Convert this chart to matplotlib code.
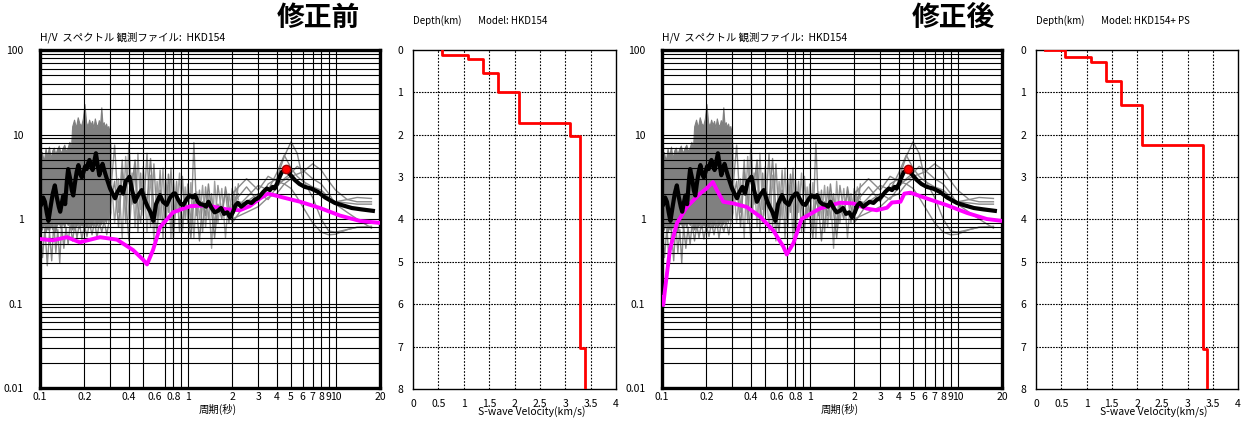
import matplotlib
matplotlib.use('Agg')
import matplotlib.pyplot as plt
import numpy as np

plt.rcParams['font.family'] = ['Noto Sans CJK JP', 'DejaVu Sans']

# ---- observed H/V spectra (file HKD154) ----
# dense band of records at short period
band_T = [0.100, 0.103, 0.106, 0.109, 0.112, 0.115, 0.118, 0.121, 0.124, 0.127,
          0.130, 0.134, 0.138, 0.142, 0.146, 0.150, 0.154, 0.158, 0.162, 0.165,
          0.170, 0.175, 0.180, 0.185, 0.190, 0.195, 0.200, 0.205, 0.210, 0.215,
          0.220, 0.225, 0.230, 0.235, 0.240, 0.245, 0.250, 0.255, 0.260, 0.265,
          0.270, 0.275, 0.280, 0.285, 0.290, 0.295, 0.300]
band_hi = [5.5, 6.2, 4.8, 6.8, 5.6, 7.2, 5.2, 6.5, 7.0, 5.8,
           6.6, 7.4, 6.0, 6.9, 7.6, 6.3, 7.0, 8.2, 6.8, 12.5,
           15.0, 12.0, 16.0, 13.5, 12.8, 15.5, 23.0, 14.0, 12.5, 15.0,
           13.0, 14.5, 12.0, 15.5, 13.2, 12.6, 14.8, 13.0, 21.0, 12.8,
           14.0, 12.2, 13.5, 11.8, 12.6, 11.0, 7.0]
band_lo = [0.85, 0.75, 0.90, 0.70, 0.80, 0.72, 0.88, 0.76, 0.82, 0.70,
           0.85, 0.90, 0.78, 0.92, 0.80, 0.95, 0.85, 0.90, 0.80, 0.75,
           0.85, 0.80, 0.90, 0.78, 0.88, 0.82, 0.90, 0.80, 0.86, 0.92,
           0.80, 0.88, 0.84, 0.95, 0.82, 0.90, 0.96, 0.85, 0.90, 0.98,
           0.88, 1.00, 0.92, 1.05, 0.95, 1.00, 1.20]

# lowest records under the band
low_T = [0.100, 0.104, 0.108, 0.112, 0.116, 0.120, 0.124, 0.128, 0.132, 0.136,
         0.140, 0.145, 0.150, 0.155, 0.160, 0.166, 0.172, 0.178, 0.185, 0.192,
         0.200, 0.208, 0.216, 0.225, 0.234, 0.243, 0.252, 0.262, 0.272, 0.283,
         0.295, 0.300]
low_A = [0.90, 0.35, 0.80, 0.28, 0.70, 0.32, 0.90, 0.40, 0.75, 0.30,
         0.85, 0.45, 0.80, 0.50, 0.90, 0.55, 0.85, 0.60, 0.90, 0.58,
         0.85, 0.62, 0.90, 0.65, 0.95, 0.60, 0.90, 0.70, 0.95, 0.65,
         1.00, 1.20]

# individual records in the middle period range
mid_T = [0.30, 0.32, 0.34, 0.36, 0.38, 0.40, 0.42, 0.44, 0.46, 0.48,
         0.50, 0.53, 0.56, 0.59, 0.62, 0.65, 0.68, 0.71, 0.74, 0.77,
         0.80, 0.84, 0.88, 0.92, 0.96, 1.00, 1.05, 1.10, 1.15, 1.20,
         1.26, 1.32, 1.38, 1.45, 1.52, 1.60, 1.70, 1.80, 1.90, 2.00,
         2.10, 2.20]
mid_a = [2.0, 7.5, 1.2, 5.0, 0.9, 8.0, 1.5, 4.0, 0.7, 3.5,
         1.1, 6.0, 0.8, 4.5, 1.0, 3.8, 0.6, 3.0, 1.2, 4.0,
         0.9, 2.8, 0.7, 3.2, 1.0, 2.6, 0.8, 8.0, 1.1, 2.2,
         0.7, 2.4, 1.0, 2.0, 0.8, 2.5, 1.2, 2.1, 0.9, 2.3,
         1.3, 2.6]
mid_b = [4.0, 0.9, 3.0, 0.6, 5.5, 1.0, 3.5, 0.8, 6.0, 1.3,
         4.2, 0.7, 3.3, 0.55, 2.8, 1.0, 4.0, 0.8, 2.5, 0.6,
         3.0, 1.2, 3.5, 0.7, 2.4, 0.9, 2.7, 0.6, 2.1, 1.0,
         2.5, 0.8, 2.0, 0.45, 2.8, 0.9, 2.3, 0.6, 2.0, 1.1,
         2.4, 1.7]
mid_c = [1.5, 2.8, 0.8, 3.6, 1.8, 0.55, 2.6, 5.0, 1.4, 0.9,
         2.5, 1.6, 5.2, 1.3, 0.7, 2.2, 1.5, 0.9, 3.4, 1.6,
         0.6, 1.9, 1.4, 0.8, 1.8, 1.2, 0.6, 1.7, 1.3, 0.55,
         1.6, 1.1, 2.6, 1.2, 0.6, 1.5, 1.0, 2.4, 1.4, 0.9,
         1.8, 2.0]

# longer period records
long_T = [2.0, 2.5, 3.0, 3.5, 4.0, 4.5, 5.0, 5.5, 6.0, 7.0,
          8.0, 9.0, 10.0, 12.0, 14.0, 17.5]
long_1 = [1.5, 2.4, 1.6, 2.6, 3.0, 5.5, 8.2, 6.0, 3.0, 1.8,
          1.0, 0.72, 0.70, 0.75, 0.80, 0.80]
long_2 = [1.2, 1.8, 2.5, 2.2, 3.5, 5.7, 4.0, 3.2, 2.8, 2.4,
          2.2, 1.8, 1.6, 1.7, 1.8, 1.75]
long_3 = [1.7, 1.5, 1.9, 2.3, 2.6, 2.9, 3.2, 3.4, 3.6, 4.5,
          3.8, 2.8, 2.2, 1.7, 1.6, 1.6]
long_4 = [0.9, 1.6, 2.0, 1.7, 2.4, 3.0, 3.5, 4.2, 3.8, 3.0,
          2.6, 2.0, 1.5, 1.2, 1.0, 0.78]
long_5 = [1.0, 1.2, 1.4, 1.8, 2.0, 2.6, 2.3, 1.8, 1.4, 0.9,
          0.70, 0.65, 0.66, 0.75, 0.80, 0.82]
long_6 = [2.0, 3.0, 2.2, 3.2, 2.8, 2.6, 3.0, 2.7, 2.5, 2.2,
          1.9, 1.7, 1.6, 1.55, 1.5, 1.5]

# mean of observed H/V
mean_T = [0.102, 0.105, 0.108, 0.111, 0.114, 0.118, 0.122, 0.126, 0.130, 0.134,
          0.137, 0.141, 0.144, 0.148, 0.152, 0.155, 0.160, 0.164, 0.168, 0.172,
          0.177, 0.182, 0.187, 0.192, 0.197, 0.202, 0.207, 0.212, 0.216, 0.221,
          0.227, 0.233, 0.239, 0.245, 0.252, 0.258, 0.265, 0.272, 0.280, 0.289,
          0.298, 0.310, 0.322, 0.335, 0.350, 0.365, 0.380, 0.395, 0.403, 0.420,
          0.439, 0.460, 0.488, 0.510, 0.535, 0.560, 0.585, 0.610, 0.649, 0.680,
          0.720, 0.760, 0.800, 0.821, 0.860, 0.900, 0.934, 0.980, 1.03, 1.08,
          1.12, 1.17, 1.22, 1.28, 1.33, 1.38, 1.45, 1.52, 1.60, 1.68,
          1.76, 1.85, 1.93, 2.02, 2.10, 2.18, 2.30, 2.42, 2.54, 2.70,
          2.85, 2.97, 3.10, 3.25, 3.43, 3.60, 3.75, 3.88, 4.05, 4.20,
          4.33, 4.48, 4.62, 4.90, 5.30, 5.70, 6.20, 6.80, 7.60, 8.50,
          9.90, 11.2, 12.9, 15.0, 17.9]
mean_A = [1.5, 1.8, 1.6, 1.2, 0.95, 1.4, 2.0, 2.5, 1.8, 1.4,
          1.22, 1.6, 1.9, 1.5, 2.8, 3.9, 3.0, 2.2, 1.9, 2.6,
          3.6, 4.35, 3.4, 3.1, 3.6, 4.2, 3.9, 4.6, 5.0, 4.3,
          3.8, 4.8, 6.0, 4.5, 3.3, 3.9, 4.5, 3.8, 3.2, 2.7,
          2.3, 2.0, 1.76, 2.1, 2.4, 2.0, 2.8, 3.0, 3.17, 2.2,
          1.6, 1.9, 2.2, 1.7, 1.4, 1.2, 0.95, 1.5, 1.92, 1.6,
          1.47, 1.8, 2.0, 2.01, 1.7, 1.5, 1.47, 1.7, 1.9, 1.8,
          1.92, 1.6, 1.5, 1.47, 1.4, 1.6, 1.35, 1.2, 1.25, 1.35,
          1.15, 1.2, 1.05, 1.2, 1.45, 1.55, 1.4, 1.5, 1.6, 1.55,
          1.7, 1.75, 1.9, 2.1, 2.3, 2.2, 2.4, 2.3, 2.7, 3.2,
          3.6, 3.7, 3.9, 3.4, 2.9, 2.6, 2.4, 2.3, 2.1, 1.8,
          1.55, 1.45, 1.35, 1.3, 1.25]
peak_T = 4.62
peak_A = 3.9

# ---- theoretical H/V ----
theo_before_T = [0.100, 0.122, 0.152, 0.186, 0.255, 0.332, 0.426, 0.499, 0.530, 0.582,
                 0.649, 0.795, 1.04, 1.35, 1.84, 2.25, 2.63, 3.08, 3.49, 4.41,
                 5.77, 7.86, 10.7, 14.6, 20.0]
theo_before_A = [0.58, 0.56, 0.61, 0.53, 0.61, 0.57, 0.43, 0.33, 0.29, 0.43,
                 0.80, 1.20, 1.42, 1.45, 1.30, 1.27, 1.42, 1.75, 2.00, 1.80,
                 1.60, 1.35, 1.10, 0.95, 0.90]
theo_after_T = [0.100, 0.102, 0.105, 0.113, 0.126, 0.147, 0.181, 0.200, 0.221, 0.235,
                0.260, 0.304, 0.374, 0.461, 0.567, 0.663, 0.699, 0.776, 0.880, 1.17,
                1.60, 1.97, 2.43, 2.84, 3.33, 3.60, 4.11, 4.37, 4.80, 6.20,
                8.45, 11.6, 15.8, 20.0]
theo_after_A = [0.12, 0.096, 0.15, 0.43, 0.89, 1.39, 2.00, 2.30, 2.74, 2.20,
                1.60, 1.53, 1.39, 1.07, 0.73, 0.47, 0.38, 0.52, 1.00, 1.33,
                1.56, 1.53, 1.33, 1.27, 1.36, 1.57, 1.60, 2.00, 2.05, 1.75,
                1.46, 1.18, 1.00, 0.95]

# ---- S-wave velocity models ----
before_vs = [0.58, 1.09, 1.38, 1.68, 2.09, 3.09, 3.29, 3.39]
before_bottom = [0.12, 0.21, 0.54, 1.00, 1.73, 2.02, 7.03, 8.00]
after_vs = [0.17, 0.58, 1.08, 1.39, 1.68, 2.10, 3.30, 3.39]
after_bottom = [0.00, 0.17, 0.29, 0.72, 1.29, 2.24, 7.05, 8.00]

period_ticks = [0.1, 0.2, 0.4, 0.6, 0.8, 1, 2, 3, 4, 5, 6, 7, 8, 9, 10, 20]
period_labels = ['0.1', '0.2', '0.4', '0.6', '0.8', '1', '2', '3', '4', '5',
                 '6', '7', '8', '9', '10', '20']
period_grid = [0.2, 0.3, 0.4, 0.5, 0.7, 0.8, 0.9, 1, 2, 3, 4, 5, 6, 7, 8, 9, 10]
amp_ticks = [0.01, 0.1, 1, 10, 100]
amp_labels = ['0.01', '0.1', '1', '10', '100']
amp_grid = [k * 10.0 ** e for e in (-2, -1, 0, 1) for k in range(1, 10)][1:]

vs_ticks = [0, 0.5, 1, 1.5, 2, 2.5, 3, 3.5, 4]
vs_labels = ['0', '0.5', '1', '1.5', '2', '2.5', '3', '3.5', '4']
depth_ticks = [0, 1, 2, 3, 4, 5, 6, 7, 8]

FS = 7.5


def draw_hv(ax, theo_T, theo_A):
    ax.set_xscale('log')
    ax.set_yscale('log')
    ax.set_xlim(0.1, 20)
    ax.set_ylim(0.01, 100)

    gray = '#808080'
    ax.fill_between(band_T, band_lo, band_hi, color=gray, lw=0.8, zorder=1)
    ax.plot(low_T, low_A, color='#8c8c8c', lw=1, zorder=1)
    for vals, c in [(mid_a, '#909090'), (mid_b, '#a0a0a0'), (mid_c, '#858585')]:
        ax.plot(mid_T, vals, color=c, lw=1, zorder=1)
    for vals in [long_1, long_2, long_3, long_4, long_5, long_6]:
        ax.plot(long_T, vals, color='#8a8a8a', lw=1, zorder=1)

    for x in period_grid:
        ax.axvline(x, color='black', lw=0.8, zorder=2)
    for y in amp_grid:
        ax.axhline(y, color='black', lw=0.8, zorder=2)

    ax.plot(theo_T, theo_A, color='#ff00ff', lw=2.8, zorder=3,
            solid_capstyle='round', solid_joinstyle='round')
    ax.plot(mean_T, mean_A, color='black', lw=3, zorder=4,
            solid_joinstyle='round')
    ax.plot([peak_T], [peak_A], 'o', color='red', mec='#a00000', ms=6, zorder=5)

    ax.minorticks_off()
    ax.set_xticks(period_ticks)
    ax.set_xticklabels(period_labels)
    ax.set_yticks(amp_ticks)
    ax.set_yticklabels(amp_labels)
    ax.tick_params(axis='x', length=0, pad=3, labelsize=FS)
    ax.tick_params(axis='y', length=0, pad=12, labelsize=FS)
    for s in ax.spines.values():
        s.set_linewidth(2.4)
    ax.text(0.0, 1.038, 'H/V  スペクトル 観測ファイル:  HKD154', transform=ax.transAxes,
            fontsize=7.5, va='center', ha='left')
    ax.text(0.524, -0.063, '周期(秒)', transform=ax.transAxes,
            fontsize=FS, va='center', ha='center')


def draw_vs(ax, vs, bottom, model, label_x):
    xs = np.repeat(vs, 2)
    ys = np.concatenate([[0.0], np.repeat(bottom[:-1], 2), [bottom[-1]]])
    ax.plot(xs, ys, color='red', lw=2, zorder=3)
    ax.set_xlim(0, 4)
    ax.set_ylim(8, 0)
    ax.set_xticks(vs_ticks)
    ax.set_xticklabels(vs_labels)
    ax.set_yticks(depth_ticks)
    ax.tick_params(length=0, pad=7, labelsize=FS)
    for x in vs_ticks[1:-1]:
        ax.axvline(x, color='black', lw=0.8, ls=(0, (1.5, 1.5)), zorder=1)
    for y in depth_ticks[1:-1]:
        ax.axhline(y, color='black', lw=0.8, ls=(0, (1.5, 1.0)), zorder=1)
    for s in ax.spines.values():
        s.set_linewidth(1.0)
    ax.text(0.0, 1.087, 'Depth(km)', transform=ax.transAxes, fontsize=7,
            va='center', ha='left')
    ax.text(0.32, 1.087, 'Model: ' + model, transform=ax.transAxes, fontsize=7,
            va='center', ha='left')
    fig.text(label_x, 0.024, 'S-wave Velocity(km/s)', fontsize=FS,
             ha='center', va='center')


fig = plt.figure(figsize=(12.5, 4.23), dpi=100)

ax1 = fig.add_axes([0.032, 0.0827, 0.272, 0.799])
ax2 = fig.add_axes([0.3304, 0.0804, 0.1624, 0.8014])
ax3 = fig.add_axes([0.5296, 0.0827, 0.272, 0.799])
ax4 = fig.add_axes([0.8288, 0.0804, 0.1616, 0.8014])

draw_hv(ax1, theo_before_T, theo_before_A)
draw_vs(ax2, before_vs, before_bottom, 'HKD154', 0.4256)
draw_hv(ax3, theo_after_T, theo_after_A)
draw_vs(ax4, after_vs, after_bottom, 'HKD154+ PS', 0.9232)

fig.text(0.2544, 0.958, '修正前', fontsize=20, fontweight='bold', ha='center', va='center')
fig.text(0.7624, 0.958, '修正後', fontsize=20, fontweight='bold', ha='center', va='center')

fig.savefig('out.png', dpi=100)
